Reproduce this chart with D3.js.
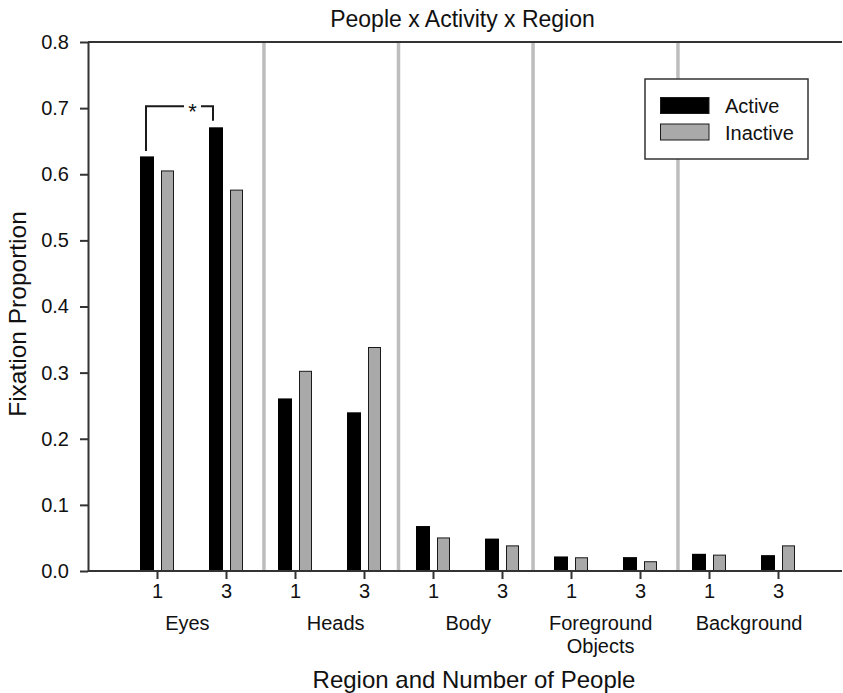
<!DOCTYPE html>
<html>
<head>
<meta charset="utf-8">
<script src="https://cdn.jsdelivr.net/npm/d3@7"></script>
<style>
  html, body { margin: 0; padding: 0; background: #fff; }
  svg { display: block; font-family: "Liberation Sans", Arial, sans-serif; }
</style>
</head>
<body>
<svg id="chart" width="843" height="693"></svg>
<script>
// Regions and group sizes on the x axis
const regions = ["Eyes", "Heads", "Body", "Foreground\nObjects", "Background"];
const peopleCounts = ["1", "3"];
// Fixation proportions, one value per (region, people) slot in order
const activeValues   = [0.627, 0.671, 0.261, 0.240, 0.068, 0.049, 0.022, 0.021, 0.026, 0.024];
const inactiveValues = [0.605, 0.576, 0.302, 0.338, 0.050, 0.038, 0.020, 0.014, 0.024, 0.038];
const yTicks = [0.0, 0.1, 0.2, 0.3, 0.4, 0.5, 0.6, 0.7, 0.8];
// Region divider positions and region label centres, in slot units
const dividers = [1.55, 3.5, 5.45, 7.55];
const regionCenters = [0.44, 2.59, 4.51, 6.43, 8.58];
const seriesNames = ["Active", "Inactive"];
// Significant comparison: Eyes 1 vs Eyes 3 (active)
const sigPair = [0, 1];

const svg = d3.select("#chart");
const plotLeft = 88, plotRight = 842, plotTop = 42, plotBottom = 571;

const y = d3.scaleLinear().domain([0, 0.8]).range([plotBottom, plotTop]);
const x = d3.scaleLinear().domain([0, 9]).range([157, 778]);

const slots = [];
regions.forEach((r, i) => peopleCounts.forEach((p, j) => slots.push({ idx: i * 2 + j, label: p })));

// Region dividers
svg.append("g").selectAll("line").data(dividers).join("line")
  .attr("x1", d => x(d)).attr("x2", d => x(d))
  .attr("y1", plotTop).attr("y2", plotBottom)
  .attr("stroke", "#bdbdbd").attr("stroke-width", 3.5);

// Bars
const bars = svg.append("g");
bars.selectAll("rect.active").data(activeValues).join("rect")
  .attr("class", "active")
  .attr("x", (d, i) => x(i) - 17).attr("width", 14)
  .attr("y", d => y(d)).attr("height", d => y(0) - y(d))
  .attr("fill", "#000");
bars.selectAll("rect.inactive").data(inactiveValues).join("rect")
  .attr("class", "inactive")
  .attr("x", (d, i) => x(i) + 4.5).attr("width", 12)
  .attr("y", d => y(d)).attr("height", d => y(0) - y(d))
  .attr("fill", "#a9a9a9").attr("stroke", "#1a1a1a").attr("stroke-width", 1);

// Frame: top line and y axis
svg.append("line").attr("x1", plotLeft).attr("x2", plotRight).attr("y1", plotTop).attr("y2", plotTop)
  .attr("stroke", "#333").attr("stroke-width", 2);

const yAxis = d3.axisLeft(y).tickValues(yTicks).tickFormat(d3.format(".1f"))
  .tickSizeInner(8).tickSizeOuter(0).tickPadding(11);
const gy = svg.append("g").attr("transform", `translate(${plotLeft},0)`).call(yAxis);
gy.select(".domain").attr("stroke", "#333").attr("stroke-width", 2);
gy.selectAll(".tick line").attr("stroke", "#333").attr("stroke-width", 2);
gy.selectAll(".tick text").attr("font-size", 20).attr("fill", "#111")
  .attr("font-family", "Liberation Sans, Arial, sans-serif");

// X axis baseline with ticks
const xAxis = d3.axisBottom(x).tickValues(slots.map(s => s.idx))
  .tickFormat((d, i) => slots[i].label).tickSizeInner(8).tickSizeOuter(0).tickPadding(5);
const gx = svg.append("g").attr("transform", `translate(0,${plotBottom})`).call(xAxis);
gx.select(".domain").attr("d", `M${plotLeft},0H${plotRight}`).attr("stroke", "#333").attr("stroke-width", 2);
gx.selectAll(".tick line").attr("stroke", "#333").attr("stroke-width", 2);
gx.selectAll(".tick text").attr("font-size", 20).attr("fill", "#111")
  .attr("font-family", "Liberation Sans, Arial, sans-serif");

// Region labels
const rl = svg.append("g").attr("font-size", 20).attr("fill", "#111").attr("text-anchor", "middle");
regions.forEach((r, i) => {
  const t = rl.append("text").attr("x", x(regionCenters[i])).attr("y", 630);
  r.split("\n").forEach((line, k) => {
    t.append("tspan").attr("x", x(regionCenters[i])).attr("dy", k === 0 ? 0 : 23).text(line);
  });
});

// Titles
svg.append("text").attr("x", 462.5).attr("y", 27).attr("text-anchor", "middle")
  .attr("font-size", 23).attr("fill", "#111").text("People x Activity x Region");
svg.append("text").attr("x", 474).attr("y", 688).attr("text-anchor", "middle")
  .attr("font-size", 24).attr("fill", "#111").text("Region and Number of People");
svg.append("text").attr("transform", "translate(26,314) rotate(-90)").attr("text-anchor", "middle")
  .attr("font-size", 24.5).attr("fill", "#111").text("Fixation Proportion");

// Significance bracket
const bx1 = x(sigPair[0]) - 11, bx2 = x(sigPair[1]) - 13;
const by = y(0.703);
svg.append("path")
  .attr("d", `M${bx1},${y(activeValues[sigPair[0]] + 0.008)}V${by}H${bx1 + 38}`)
  .attr("fill", "none").attr("stroke", "#1a1a1a").attr("stroke-width", 2);
svg.append("path")
  .attr("d", `M${bx2 - 12},${by}H${bx2}V${y(activeValues[sigPair[1]] + 0.01)}`)
  .attr("fill", "none").attr("stroke", "#1a1a1a").attr("stroke-width", 2);
svg.append("text").attr("x", (bx1 + 38 + bx2 - 12) / 2).attr("y", by + 13)
  .attr("text-anchor", "middle").attr("font-size", 22).attr("fill", "#111").text("*");

// Legend
const lg = svg.append("g");
lg.append("rect").attr("x", 645).attr("y", 79).attr("width", 163).attr("height", 80)
  .attr("fill", "#fff").attr("stroke", "#333").attr("stroke-width", 1.5);
const swatchFill = ["#000", "#a9a9a9"];
seriesNames.forEach((name, i) => {
  lg.append("rect").attr("x", 660.5).attr("y", 97.5 + i * 26.5).attr("width", 48.5).attr("height", 16)
    .attr("fill", swatchFill[i]).attr("stroke", "#1a1a1a").attr("stroke-width", 1);
  lg.append("text").attr("x", 725).attr("y", 113 + i * 26.5)
    .attr("font-size", 20).attr("fill", "#111").text(name);
});
</script>
</body>
</html>
